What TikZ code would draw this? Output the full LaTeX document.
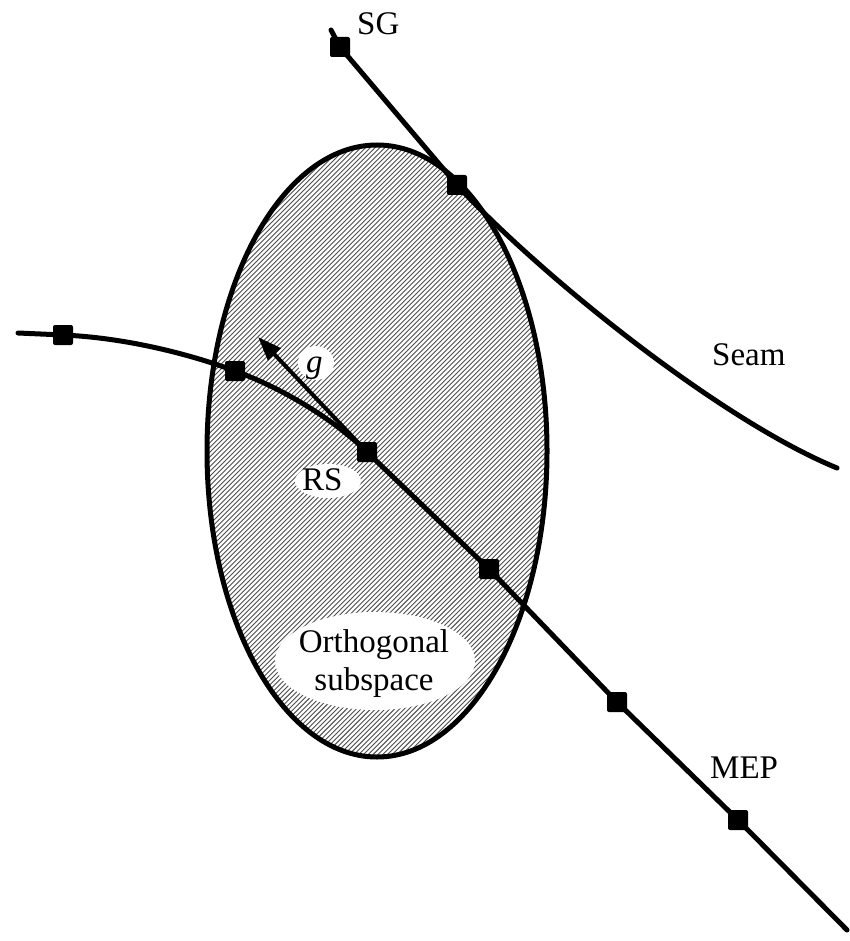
\documentclass[tikz,border=0pt]{standalone}
\usepackage{fontspec}
\setmainfont{Liberation Serif}
\usetikzlibrary{arrows.meta}
\tikzset{
  curve/.style={line width=5pt, line cap=round, line join=round},
  sq/.style={fill=black, minimum size=20pt, inner sep=0pt, rounded corners=2pt},
  hatch/.style={line width=0.9pt, black!70},
  lbl/.style={font=\fontsize{33}{38}\selectfont, inner sep=0pt, anchor=base west},
  whitebg/.style={fill=white, draw=none}
}
\begin{document}
\begin{tikzpicture}[x=1pt,y=-1pt]
\useasboundingbox (0,0) rectangle (849,941);
% hatched ellipse
\begin{scope}
  \clip (377,451) ellipse [x radius=170, y radius=306];
  \foreach \c in {470,474.8,...,1195} {
    \draw[hatch] (\c-100,100) -- (\c-850,850);
  }
\end{scope}
% white label backgrounds
\fill[whitebg] (316,363) ellipse [x radius=18, y radius=17];
\fill[whitebg] (328,481) ellipse [x radius=33, y radius=17];
\fill[whitebg] (375,661) ellipse [x radius=100, y radius=49];
% ellipse outline
\draw[line width=5pt] (377,451) ellipse [x radius=170, y radius=306];
% coordinates
\coordinate (seamstart) at (331,30);
\coordinate (sgp) at (340,47);
\coordinate (tp) at (457,185);
\coordinate (seamend) at (837,468);
\coordinate (mepstart) at (18,333);
\coordinate (m1) at (63,335);
\coordinate (m2) at (235,371);
\coordinate (rs) at (367,452);
\coordinate (m3) at (489,569);
\coordinate (m4) at (617,702);
\coordinate (m5) at (738,820);
\coordinate (mepend) at (847,930);
\coordinate (gtip) at (258,337);
% seam
\draw[curve] (seamstart) -- (sgp) -- (tp) .. controls (540,275) and (720,420) .. (seamend);
% MEP
\draw[curve] (mepstart) -- (m1) .. controls (130,338) and (195,356) .. (m2)
  .. controls (290,391) and (340,425) .. (rs) -- (m3) -- (m4) -- (m5) -- (mepend);
% gradient arrow
\draw[line width=4pt, -{Triangle[length=24pt,width=17pt]}] (rs) -- (gtip);
% squares
\node[sq] (nsg) at (sgp) {};
\node[sq] (ntp) at (tp) {};
\node[sq] (nm1) at (m1) {};
\node[sq] (nm2) at (m2) {};
\node[sq] (nrs) at (rs) {};
\node[sq] (nm3) at (m3) {};
\node[sq] (nm4) at (m4) {};
\node[sq] (nm5) at (m5) {};
% labels
\node[lbl] (lsg) at (357,35) {SG};
\node[lbl] (lseam) at (712,365) {Seam};
\node[lbl] (lmep) at (710,778) {MEP};
\node[lbl] (lrs) at (302,490) {RS};
\node[lbl] (lg) at (306,372) {\itshape g};
\node[lbl, anchor=base] (lo1) at (374,652) {Orthogonal};
\node[lbl, anchor=base] (lo2) at (374,690) {subspace};
\end{tikzpicture}
\end{document}
